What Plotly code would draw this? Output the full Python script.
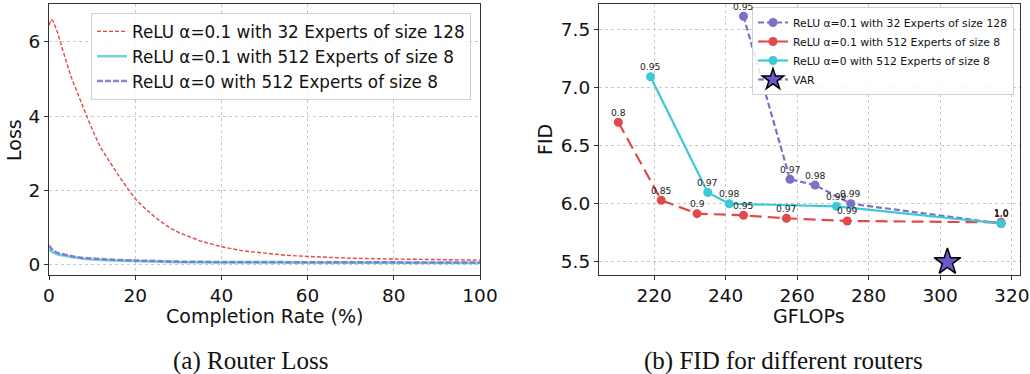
import plotly.graph_objects as go

# ---------------- Left panel: router loss ----------------
red_x = [0, 0.5, 1, 2, 3, 4, 5, 6, 8, 10, 12, 14, 16, 18, 20, 22, 25, 28, 30, 35, 40, 45, 50, 55, 60, 65, 70, 80, 90, 100]
red_y = [6.45, 6.6, 6.55, 6.25, 5.85, 5.45, 5.1, 4.8, 4.2, 3.65, 3.15, 2.78, 2.43, 2.1, 1.78, 1.55, 1.25, 1.0, 0.88, 0.65, 0.49, 0.38, 0.31, 0.26, 0.23, 0.2, 0.18, 0.16, 0.14, 0.13]

cyan_x = [0, 1, 2, 4, 6, 8, 10, 15, 20, 25, 30, 40, 60, 80, 100]
cyan_y = [0.42, 0.33, 0.28, 0.23, 0.2, 0.17, 0.15, 0.12, 0.1, 0.085, 0.075, 0.065, 0.055, 0.05, 0.05]

purple_x = [0, 1, 2, 4, 6, 8, 10, 15, 20, 25, 30, 40, 60, 80, 100]
purple_y = [0.52, 0.38, 0.32, 0.26, 0.22, 0.19, 0.17, 0.14, 0.12, 0.1, 0.09, 0.08, 0.07, 0.065, 0.065]

loss_names = ["ReLU α=0.1 with 32 Experts of size 128",
              "ReLU α=0.1 with 512 Experts of size 8",
              "ReLU α=0 with 512 Experts of size 8"]

# ---------------- Right panel: FID vs GFLOPs ----------------
p32_gflops = [245, 258, 265, 275, 317]
p32_fid = [7.61, 6.21, 6.16, 6.00, 5.83]
p32_lbl = ["0.95", "0.97", "0.98", "0.99", "1.0"]

r512_gflops = [210, 222, 232, 245, 257, 274, 317]
r512_fid = [6.70, 6.03, 5.915, 5.90, 5.875, 5.852, 5.84]
r512_lbl = ["0.8", "0.85", "0.9", "0.95", "0.97", "0.99", "1.0"]

c512_gflops = [219, 235, 241, 271, 317]
c512_fid = [7.09, 6.096, 6.00, 5.978, 5.83]
c512_lbl = ["0.95", "0.97", "0.98", "0.99", "1.0"]

var_gflops = [302]
var_fid = [5.5]

fid_names = ["ReLU α=0.1 with 32 Experts of size 128",
             "ReLU α=0.1 with 512 Experts of size 8",
             "ReLU α=0 with 512 Experts of size 8",
             "VAR"]

RED = "#e04a4a"
CYAN = "#3cc8d6"
PURPLE = "#7c6fc6"
STAR = "#6a5acd"
FONT = "DejaVu Sans"

fig = go.Figure()

# left traces
fig.add_trace(go.Scatter(x=red_x, y=red_y, mode="lines", name=loss_names[0],
                         line=dict(color=RED, width=1.4, dash="4px,2px"),
                         xaxis="x", yaxis="y", legend="legend"))
fig.add_trace(go.Scatter(x=cyan_x, y=cyan_y, mode="lines", name=loss_names[1],
                         line=dict(color=CYAN, width=2.5), opacity=0.75,
                         xaxis="x", yaxis="y", legend="legend"))
fig.add_trace(go.Scatter(x=purple_x, y=purple_y, mode="lines", name=loss_names[2],
                         line=dict(color=PURPLE, width=2.5, dash="6px,2px"), opacity=0.85,
                         xaxis="x", yaxis="y", legend="legend"))

# right traces
fig.add_trace(go.Scatter(x=p32_gflops, y=p32_fid, mode="lines+markers", name=fid_names[0],
                         line=dict(color=PURPLE, width=2.2, dash="6px,3px"),
                         marker=dict(color=PURPLE, size=9),
                         xaxis="x2", yaxis="y2", legend="legend2"))
fig.add_trace(go.Scatter(x=r512_gflops, y=r512_fid, mode="lines+markers", name=fid_names[1],
                         line=dict(color=RED, width=2.2, dash="12px,6px"),
                         marker=dict(color=RED, size=9),
                         xaxis="x2", yaxis="y2", legend="legend2"))
fig.add_trace(go.Scatter(x=c512_gflops, y=c512_fid, mode="lines+markers", name=fid_names[2],
                         line=dict(color=CYAN, width=2.2),
                         marker=dict(color=CYAN, size=9),
                         xaxis="x2", yaxis="y2", legend="legend2"))
fig.add_trace(go.Scatter(x=var_gflops, y=var_fid, mode="lines+markers", name=fid_names[3],
                         line=dict(color=PURPLE, width=2.2, dash="6px,3px"),
                         marker=dict(symbol="star", color=STAR, size=20, line=dict(color="black", width=1.5)),
                         xaxis="x2", yaxis="y2", legend="legend2"))

# point labels (threshold values) above each marker
for gx, gy, lbls in [(p32_gflops, p32_fid, p32_lbl),
                     (r512_gflops, r512_fid, r512_lbl),
                     (c512_gflops, c512_fid, c512_lbl)]:
    for xv, yv, t in zip(gx, gy, lbls):
        fig.add_annotation(x=xv, y=yv, xref="x2", yref="y2", text=t, showarrow=False,
                           yshift=10, xanchor="center", yanchor="middle",
                           font=dict(family=FONT, size=9.2, color="#222"))

W, H = 1030, 374


def px(x):
    return x / W


def py(y):
    return 1 - y / H


axis_common = dict(showline=True, mirror=True, linecolor="#333", linewidth=1.2,
                   ticks="outside", ticklen=4, tickcolor="#333", automargin=False,
                   showgrid=True, gridcolor="#c8c8c8", griddash="dot", gridwidth=0.8,
                   zeroline=False, tickfont=dict(family=FONT, size=18.5, color="#111"))

fig.update_layout(
    width=W, height=H,
    margin=dict(l=0, r=0, t=0, b=0, autoexpand=False),
    paper_bgcolor="white", plot_bgcolor="white",
    font=dict(family=FONT, color="#111"),
    xaxis=dict(domain=[px(49), px(480)], range=[0, 100], tickvals=[0, 20, 40, 60, 80, 100],
               anchor="y", **axis_common),
    yaxis=dict(domain=[py(275), py(4)], range=[-0.27, 7.02], tickvals=[0, 2, 4, 6],
               anchor="x", **axis_common),
    xaxis2=dict(domain=[px(599), px(1020)], range=[204.6, 322.3], tickvals=[220, 240, 260, 280, 300, 320],
                anchor="y2", **axis_common),
    yaxis2=dict(domain=[py(275), py(4)], range=[5.388, 7.715], tickvals=[5.5, 6.0, 6.5, 7.0, 7.5],
                tickformat=".1f", anchor="x2", **axis_common),
    legend=dict(x=px(471), y=py(13), xanchor="right", yanchor="top",
                bgcolor="rgba(255,255,255,0.85)", bordercolor="#d0d0d0", borderwidth=1,
                font=dict(family=FONT, size=16.8, color="#111"), tracegroupgap=0),
    legend2=dict(x=px(1014), y=py(7), xanchor="right", yanchor="top",
                 bgcolor="rgba(255,255,255,0.85)", bordercolor="#d0d0d0", borderwidth=1,
                 font=dict(family=FONT, size=10.8, color="#111"), tracegroupgap=0),
    showlegend=True,
)

annots = [
    dict(text="Loss", x=px(14), y=py(140), textangle=-90, font=dict(family=FONT, size=19)),
    dict(text="Completion Rate (%)", x=px(264), y=py(316), font=dict(family=FONT, size=19)),
    dict(text="FID", x=px(545), y=py(140), textangle=-90, font=dict(family=FONT, size=19)),
    dict(text="GFLOPs", x=px(809), y=py(316), font=dict(family=FONT, size=19)),
    dict(text="(a) Router Loss", x=px(251), y=py(361), font=dict(family="Liberation Serif", size=25)),
    dict(text="(b) FID for different routers", x=px(783), y=py(361), font=dict(family="Liberation Serif", size=25)),
]
for a in annots:
    fig.add_annotation(xref="paper", yref="paper", showarrow=False, xanchor="center", yanchor="middle", **a)

fig.write_html("out.html", config={"displayModeBar": False},
               post_script="document.body.style.margin='0px';document.body.style.overflow='hidden';")
